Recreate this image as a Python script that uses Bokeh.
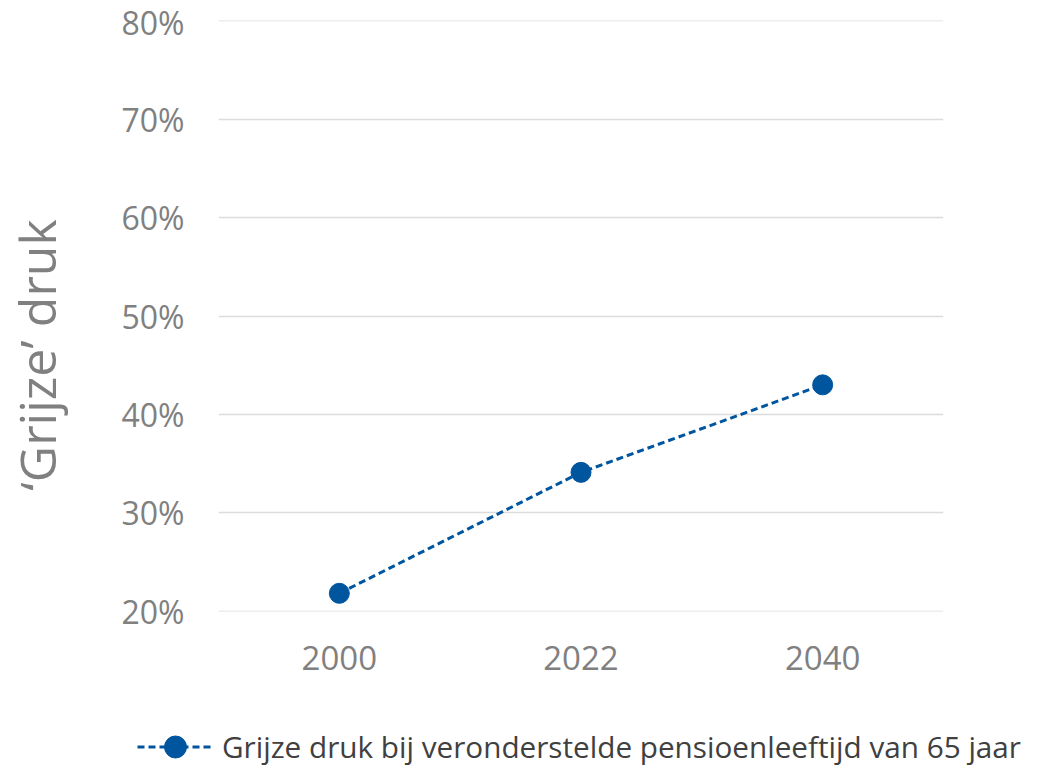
from bokeh.plotting import figure
from bokeh.layouts import column, row
from bokeh.models import FixedTicker, NumeralTickFormatter, Legend, LegendItem, ColumnDataSource
from bokeh.embed import file_html
from bokeh.resources import INLINE

years = ["2000", "2022", "2040"]
grijze_druk = [0.218, 0.341, 0.430]
y_ticks = [0.2, 0.3, 0.4, 0.5, 0.6, 0.7, 0.8]
series_name = "Grijze druk bij veronderstelde pensioenleeftijd van 65 jaar"
y_title = "\u2018Grijze\u2019 druk"

FONT = "Open Sans"
BLUE = "#00559f"
GREY = "#808080"

src = ColumnDataSource(dict(x=years, y=grijze_druk))

p = figure(width=1033, height=690, x_range=years, y_range=(0.1995, 0.8005),
           output_backend="svg", toolbar_location=None,
           min_border_left=217, min_border_right=90, min_border_top=20, min_border_bottom=79)
p.outline_line_color = None
p.background_fill_color = "white"
p.border_fill_color = "white"

ln = p.line("x", "y", source=src, line_color=BLUE, line_width=3, line_dash="7 4")
sc = p.scatter("x", "y", source=src, size=20, fill_color=BLUE, line_color=BLUE)

p.yaxis.ticker = FixedTicker(ticks=y_ticks)
p.yaxis.formatter = NumeralTickFormatter(format="0%")
for ax in (p.xaxis[0], p.yaxis[0]):
    ax.axis_line_color = None
    ax.major_tick_line_color = None
    ax.minor_tick_line_color = None
    ax.major_label_text_font = FONT
    ax.major_label_text_color = GREY
p.yaxis.major_label_text_font_size = "32px"
p.xaxis.major_label_text_font_size = "33px"
p.yaxis.major_label_standoff = 28
p.xaxis.major_label_standoff = 28

# y-axis title (trailing no-break spaces shift it slightly down, as in the original)
p.yaxis.axis_label = y_title + "\u00a0" * 6
p.yaxis.axis_label_text_font = FONT
p.yaxis.axis_label_text_font_size = "50px"
p.yaxis.axis_label_text_font_style = "normal"
p.yaxis.axis_label_text_color = GREY
p.yaxis.axis_label_standoff = 47

p.xgrid.grid_line_color = None
p.ygrid.grid_line_color = "#dcdcdc"
p.ygrid.grid_line_width = 1.5
p.ygrid.ticker = FixedTicker(ticks=y_ticks)

# legend strip below the chart (its own figure, glyph data kept outside its view)
lg = figure(width=1033, height=76, output_backend="svg", toolbar_location=None,
            x_axis_type=None, y_axis_type=None, min_border=0,
            x_range=(0, 1), y_range=(5, 6))
lg.outline_line_color = None
lg.grid.visible = False
l_src = ColumnDataSource(dict(x=grijze_druk, y=grijze_druk))
l_ln = lg.line("x", "y", source=l_src, line_color=BLUE, line_width=3, line_dash="7 4")
l_sc = lg.scatter("x", "y", source=l_src, size=20, fill_color=BLUE, line_color=BLUE)
legend = Legend(items=[LegendItem(label=series_name, renderers=[l_ln, l_sc])],
                location=(137, -8), orientation="horizontal", padding=0, margin=0,
                border_line_color=None, background_fill_alpha=0,
                glyph_width=76, glyph_height=55,
                label_standoff=9, label_text_font=FONT, label_text_font_size="29.7px",
                label_text_color="#404040", label_height=55)
lg.add_layout(legend, "center")

layout = column(p, row(lg), spacing=0)
open("out.html", "w").write(file_html(layout, INLINE))
